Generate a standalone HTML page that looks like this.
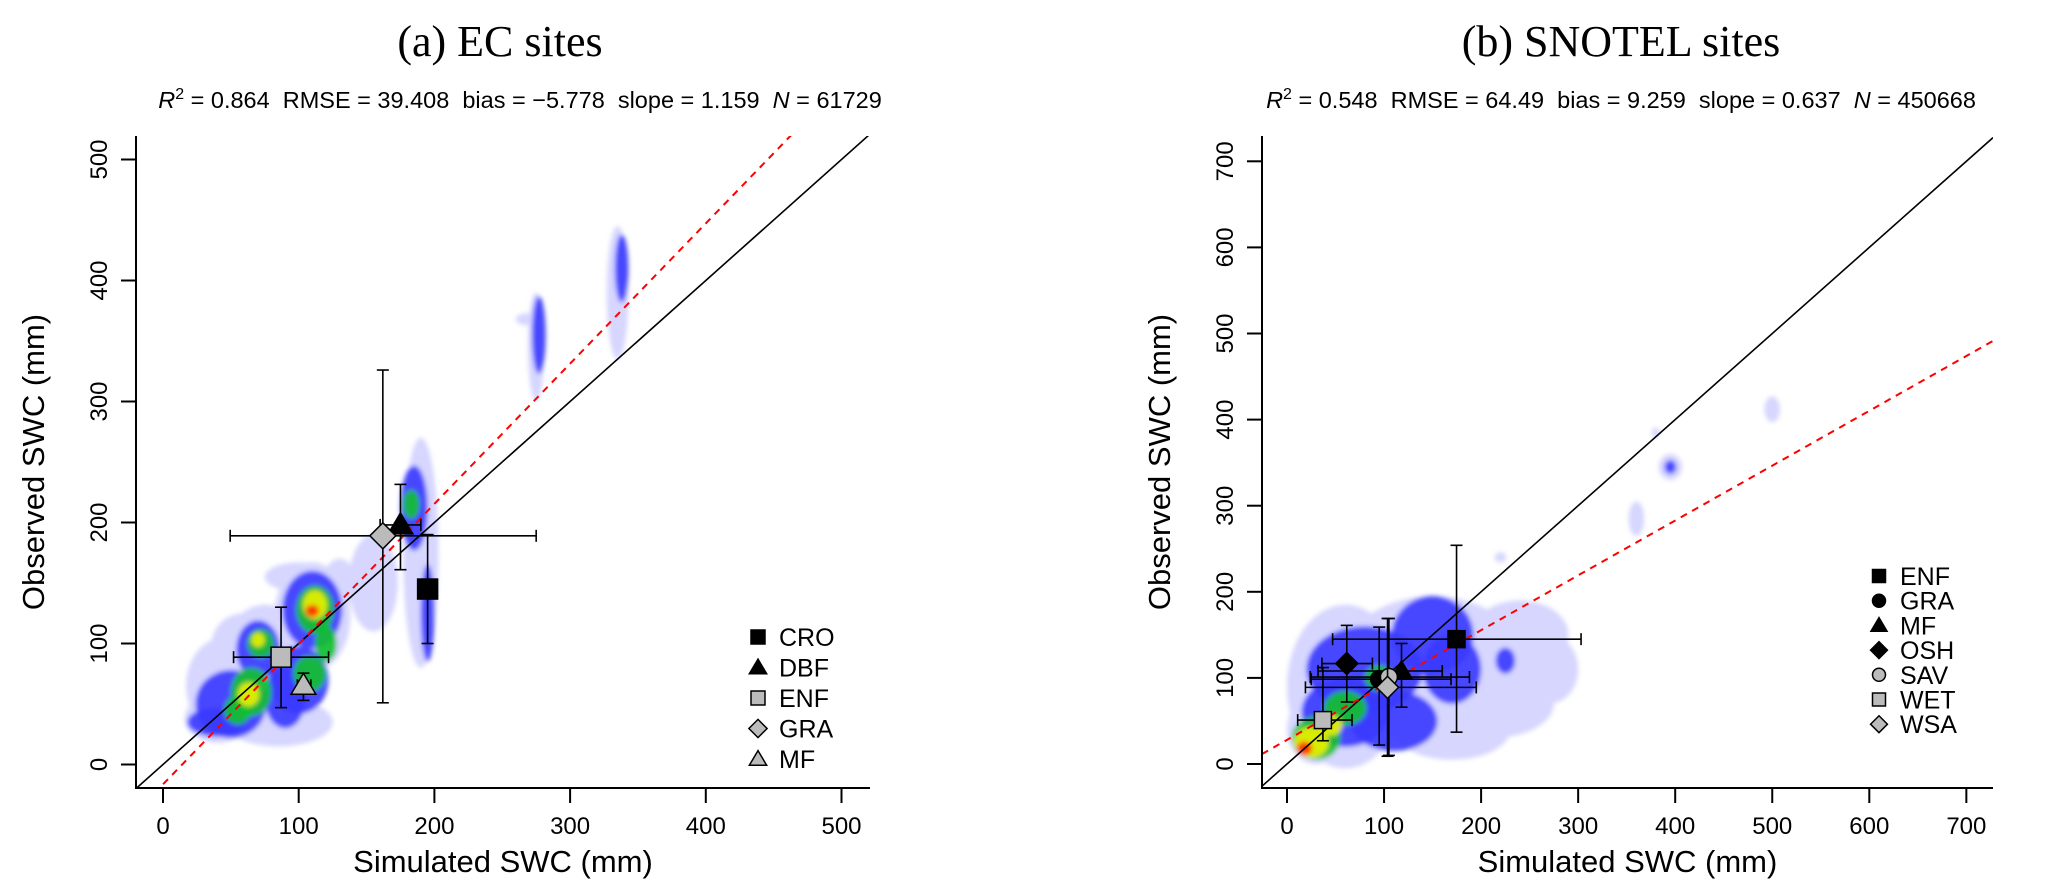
<!DOCTYPE html>
<html><head><meta charset="utf-8"><style>
html,body{margin:0;padding:0;background:#fff;}
svg{display:block;}
text{font-family:"Liberation Sans",Arial,sans-serif;fill:#000;white-space:pre;}
</style></head><body>
<svg id="fig" width="2067" height="893" viewBox="0 0 2067 893" xmlns="http://www.w3.org/2000/svg">
<defs>
<filter id="blur" x="-20%" y="-20%" width="140%" height="140%"><feGaussianBlur stdDeviation="2.5"/></filter>
<clipPath id="clipA"><rect x="136" y="136" width="734" height="652"/></clipPath>
<clipPath id="clipB"><rect x="1262" y="136" width="731" height="652"/></clipPath>
</defs>
<text x="500" y="56" font-size="44" text-anchor="middle" style="font-family:'Liberation Serif',serif">(a) EC sites</text>
<text x="1621" y="56" font-size="44" text-anchor="middle" style="font-family:'Liberation Serif',serif">(b) SNOTEL sites</text>
<text x="520" y="108" font-size="23.5" text-anchor="middle" xml:space="preserve"><tspan font-style="italic">R</tspan><tspan dy="-9" font-size="16">2</tspan><tspan dy="9"> = 0.864  RMSE = 39.408  bias = −5.778  slope = 1.159  </tspan><tspan font-style="italic">N</tspan><tspan> = 61729</tspan></text>
<text x="1621" y="108" font-size="23.5" text-anchor="middle" xml:space="preserve"><tspan font-style="italic">R</tspan><tspan dy="-9" font-size="16">2</tspan><tspan dy="9"> = 0.548  RMSE = 64.49  bias = 9.259  slope = 0.637  </tspan><tspan font-style="italic">N</tspan><tspan> = 450668</tspan></text>
<g id="panelA"></g>
<g id="panelB"></g>
</svg>
<script>
// ---------- data ----------
const ecTicksX = [0,100,200,300,400,500];
const ecTicksY = [0,100,200,300,400,500];
const snTicksX = [0,100,200,300,400,500,600,700];
const snTicksY = [0,100,200,300,400,500,600,700];
const ecFitSlope = 1.159, ecFitIntercept = -16.4;
const snFitSlope = 0.637, snFitIntercept = 28;
// density blobs: [x, y, rx, ry, level]
const ecCloud = [
 [45,65,28,40,0],[40,38,24,20,0],[75,92,30,40,0],[110,122,28,45,0],[155,150,18,40,0],[190,175,13,95,0],[85,35,40,20,0],[60,100,24,25,0],[130,150,12,20,0],[275,345,6,45,0],[335,390,8,55,0],[268,368,8,5,0],[100,155,25,12,0],
 [50,50,26,28,1],[70,95,16,24,1],[110,128,22,32,1],[100,70,22,28,1],[185,212,10,35,1],[195,125,5,40,1],[277,355,5,32,1],[338,410,5,28,1],[40,35,22,12,1],[90,55,15,25,1],
 [65,60,15,20,2],[72,100,10,12,2],[112,128,14,20,2],[108,75,12,15,2],[183,215,6,12,2],[120,100,8,15,2],[55,45,10,12,2],
 [63,58,8,10,3],[70,103,5,6,3],[112,132,9,12,3],
 [110,127,5,5,4]
];
const snCloud = [
 [60,90,60,95,0],[150,115,95,80,0],[240,150,50,40,0],[210,70,65,40,0],[30,40,30,40,0],[270,110,30,40,0],[360,285,8,20,0],[395,345,12,15,0],[500,412,8,15,0],[380,385,4,6,0],[220,240,6,6,0],[170,40,60,35,0],
 [80,110,60,50,1],[150,150,42,45,1],[60,60,45,40,1],[170,110,30,40,1],[225,120,10,15,1],[395,345,6,8,1],[110,50,45,35,1],
 [30,30,25,25,2],[60,65,22,20,2],[95,100,15,15,2],
 [25,25,18,18,3],[45,45,12,12,3],
 [18,18,8,8,4]
];
const cloudColors = ["#d6d6ff","#3a3aff","#10c030","#e8f000","#ff2a00"];
const ecNames = ["CRO","DBF","ENF","GRA","MF"];
const ecX = [195,175,87,162,103.5];
const ecY = [145,198,88.7,189,65.5];
const ecXlo = [195,160,52,49.5,99];
const ecXhi = [195,190,122,275,109];
const ecYlo = [100,161,47,51,53];
const ecYhi = [190,231.5,130,326,75.5];
const ecShape = ["square","triangle","square","diamond","triangle"];
const ecFill = ["#000","#000","#bbb","#bbb","#bbb"];
const snNames = ["ENF","GRA","MF","OSH","SAV","WET","WSA"];
const snX = [174.7,95,118,61.6,105,37,103.6];
const snY = [145,98.5,108,116.7,101,51,89];
const snXlo = [47,25,32,36,24,11,19];
const snXhi = [303,169,160,88,188,67,195];
const snYlo = [37,22,66,72,10,27,9];
const snYhi = [254,159,140,161,169,112,169];
const snShape = ["square","circle","triangle","diamond","circle","square","diamond"];
const snFill = ["#000","#000","#000","#000","#bbb","#bbb","#bbb"];

// ---------- helpers ----------
const NS="http://www.w3.org/2000/svg";
function mk(tag, attrs, parent){const e=document.createElementNS(NS,tag);for(const k in attrs)e.setAttribute(k,attrs[k]);parent.appendChild(e);return e;}

function marker(g, shape, cx, cy, s, fill){
  let e;
  if(shape==="square") e=mk("rect",{x:cx-s/2,y:cy-s/2,width:s,height:s},g);
  else if(shape==="circle") e=mk("circle",{cx:cx,cy:cy,r:s/2},g);
  else if(shape==="triangle") e=mk("polygon",{points:`${cx},${cy-s*0.6} ${cx-s*0.62},${cy+s*0.45} ${cx+s*0.62},${cy+s*0.45}`},g);
  else e=mk("polygon",{points:`${cx},${cy-s*0.65} ${cx+s*0.65},${cy} ${cx},${cy+s*0.65} ${cx-s*0.65},${cy}`},g);
  e.setAttribute("fill",fill);e.setAttribute("stroke","#000");e.setAttribute("stroke-width","1.5");
  return e;
}

function panel(cfg){
  const g=document.getElementById(cfg.id);
  const X=v=>cfg.x0+v*cfg.sx, Y=v=>cfg.y0-v*cfg.sy;
  const vx0=(cfg.L-cfg.x0)/cfg.sx, vx1=(cfg.R-cfg.x0)/cfg.sx;
  const cg=mk("g",{"clip-path":`url(#${cfg.clip})`,filter:"url(#blur)"},g);
  
  
  cfg.cloud.forEach(b=>{
    const e=mk("ellipse",{cx:X(b[0]),cy:Y(b[1]),rx:b[2]*cfg.sx,ry:b[3]*cfg.sy,fill:cloudColors[b[4]],opacity:b[4]===0?1:0.92},cg);
    
    
  });
  const lg=mk("g",{"clip-path":`url(#${cfg.clip})`},g);
  const one=mk("line",{x1:X(vx0),y1:Y(vx0),x2:X(vx1),y2:Y(vx1),stroke:"#000","stroke-width":1.6},lg);
  
  
  const fit=mk("line",{x1:X(vx0),y1:Y(cfg.b+cfg.m*vx0),x2:X(vx1),y2:Y(cfg.b+cfg.m*vx1),stroke:"#ff0000","stroke-width":2,"stroke-dasharray":"7,6"},lg);
  
  
  const ax=mk("path",{d:`M${cfg.L},${cfg.T} V${cfg.B} H${cfg.R}`,fill:"none",stroke:"#000","stroke-width":2},g);
  
  
  cfg.tx.forEach(t=>{
    mk("line",{x1:X(t),y1:cfg.B,x2:X(t),y2:cfg.B+15,stroke:"#000","stroke-width":2},g);
    const tl=mk("text",{x:X(t),y:cfg.B+46,"font-size":24,"text-anchor":"middle"},g);tl.textContent=t;
    
    
  });
  cfg.ty.forEach(t=>{
    mk("line",{x1:cfg.L,y1:Y(t),x2:cfg.L-15,y2:Y(t),stroke:"#000","stroke-width":2},g);
    const tl=mk("text",{x:0,y:0,"font-size":24,"text-anchor":"middle",transform:`translate(${cfg.L-29},${Y(t)}) rotate(-90)`},g);tl.textContent=t;
    
    
  });
  const xt=mk("text",{x:(cfg.L+cfg.R)/2,y:872,"font-size":31,"text-anchor":"middle"},g);xt.textContent="Simulated SWC (mm)";
  
  
  const yt=mk("text",{x:0,y:0,"font-size":31,"text-anchor":"middle",transform:`translate(${cfg.L-92},${(cfg.T+cfg.B)/2}) rotate(-90)`},g);yt.textContent="Observed SWC (mm)";
  
  
  const cap=6;
  cfg.names.forEach((n,i)=>{
    const pg=mk("g",{},g);
    
    
    const cx=X(cfg.px[i]), cy=Y(cfg.py[i]);
    const st={stroke:"#000","stroke-width":1.6};
    mk("line",Object.assign({x1:X(cfg.xlo[i]),y1:cy,x2:X(cfg.xhi[i]),y2:cy},st),pg);
    mk("line",Object.assign({x1:X(cfg.xlo[i]),y1:cy-cap,x2:X(cfg.xlo[i]),y2:cy+cap},st),pg);
    mk("line",Object.assign({x1:X(cfg.xhi[i]),y1:cy-cap,x2:X(cfg.xhi[i]),y2:cy+cap},st),pg);
    mk("line",Object.assign({x1:cx,y1:Y(cfg.ylo[i]),x2:cx,y2:Y(cfg.yhi[i])},st),pg);
    mk("line",Object.assign({x1:cx-cap,y1:Y(cfg.ylo[i]),x2:cx+cap,y2:Y(cfg.ylo[i])},st),pg);
    mk("line",Object.assign({x1:cx-cap,y1:Y(cfg.yhi[i]),x2:cx+cap,y2:Y(cfg.yhi[i])},st),pg);
    marker(pg,cfg.shape[i],cx,cy,cfg.ms,cfg.fill[i]);
  });
  cfg.names.forEach((n,i)=>{
    const y=cfg.legY+i*cfg.legDy;
    const lg2=mk("g",{},g);
    
    
    marker(lg2,cfg.shape[i],cfg.legX,y,cfg.legMs,cfg.fill[i]);
    const t=mk("text",{x:cfg.legX+21,y:y+9,"font-size":cfg.legFs},lg2);t.textContent=n;
  });
}

panel({id:"panelA",clip:"clipA",x0:163,sx:1.357,y0:764.5,sy:1.21,L:136,R:870,T:136,B:788,
  m:ecFitSlope,b:ecFitIntercept,tx:ecTicksX,ty:ecTicksY,cloud:ecCloud,
  names:ecNames,px:ecX,py:ecY,xlo:ecXlo,xhi:ecXhi,ylo:ecYlo,yhi:ecYhi,shape:ecShape,fill:ecFill,ms:20,
  legX:758,legY:637,legDy:30.5,legMs:14,legFs:25});
panel({id:"panelB",clip:"clipB",x0:1287,sx:0.9705,y0:764,sy:0.861,L:1262,R:1993,T:136,B:788,
  m:snFitSlope,b:snFitIntercept,tx:snTicksX,ty:snTicksY,cloud:snCloud,
  names:snNames,px:snX,py:snY,xlo:snXlo,xhi:snXhi,ylo:snYlo,yhi:snYhi,shape:snShape,fill:snFill,ms:17,
  legX:1879,legY:576,legDy:24.7,legMs:13,legFs:25});
</script>
</body></html>
